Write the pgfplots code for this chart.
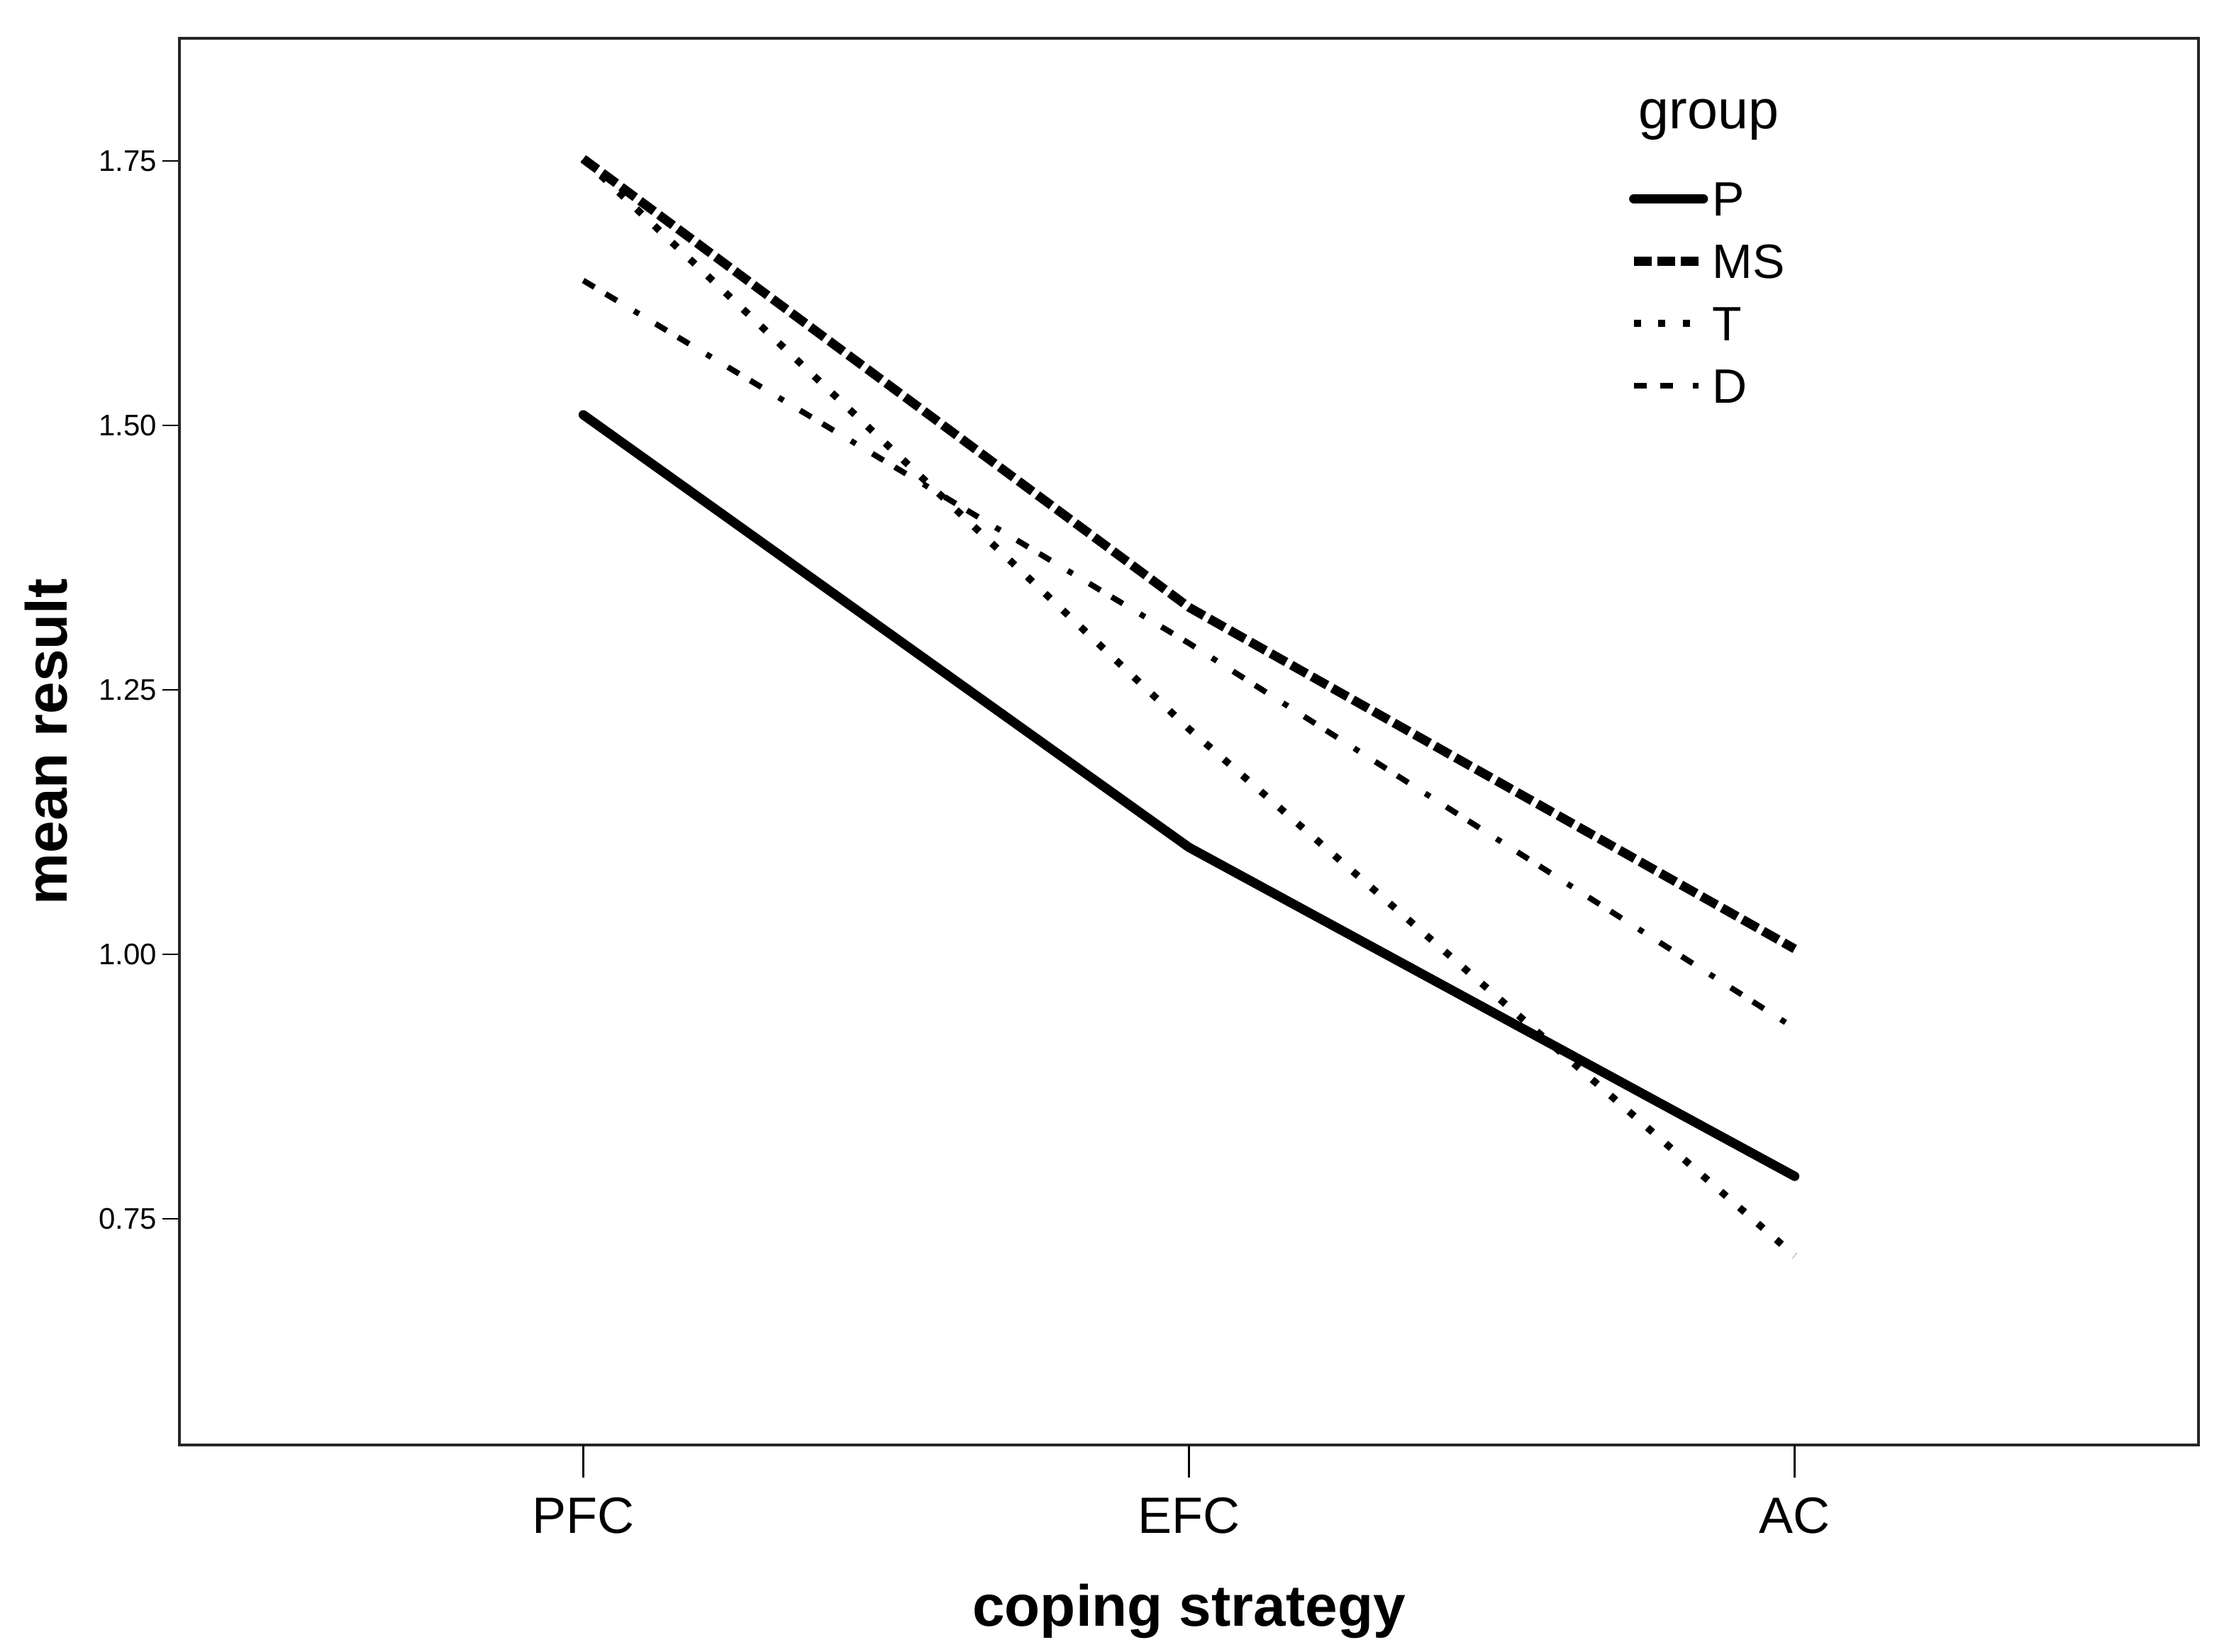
\documentclass[border=0pt]{standalone}
\usepackage{pgfplots}
\pgfplotsset{compat=1.18}
\usepackage{fontspec}
\setmainfont{Liberation Sans}
\begin{document}
\begin{tikzpicture}
\begin{axis}[
  at={(0,0)}, anchor=south west,
  scale only axis,
  width=711.75pt, height=496pt,
  xmin=-0.6667, xmax=2.6667,
  ymin=0.536, ymax=1.866,
  xtick=\empty,
  extra x ticks={0,1,2}, extra x tick labels={PFC,EFC,AC},
  extra x tick style={major tick length=11.5pt, xtick pos=bottom, tick align=outside,
     xticklabel style={font=\fontsize{18}{18}\selectfont, yshift=-3.5pt}},
  ytick={0.75,1,1.25,1.5,1.75},
  /pgf/number format/assume math mode=true,
  yticklabel style={/pgf/number format/fixed, /pgf/number format/fixed zerofill, /pgf/number format/precision=2,
     font=\fontsize{10.5}{10.5}\selectfont, xshift=1.5pt},
  tick align=outside,
  xtick pos=bottom, ytick pos=left,
  major tick length=6pt,
  every tick/.style={black, line width=0.6pt},
  axis line style={black!85, line width=1.1pt},
  xlabel={\textbf{coping strategy}},
  ylabel={\textbf{mean result}},
  xlabel style={font=\fontsize{20.5}{20.5}\selectfont, at={(axis description cs:0.5,0)}, anchor=center, yshift=-58.5pt},
  ylabel style={font=\fontsize{20.5}{20.5}\selectfont, at={(axis description cs:-0.066,0.5)}, anchor=center},
  legend image code/.code={\draw[#1] (0pt,0pt) -- (24.5pt,0pt);},
  legend cell align=left,
  legend style={draw=none, fill=none, inner sep=0pt, outer sep=0pt,
     at={(rel axis cs:0.718,0.908)}, anchor=north west,
     font=\fontsize{17}{17}\selectfont, row sep=0pt,
     /tikz/every odd column/.append style={column sep=1.5pt},
     nodes={inner ysep=0pt, inner xsep=0pt, text height=17.1pt, text depth=4.9pt}},
]
\addplot[black, line width=3.3pt, line cap=round, line join=round] coordinates {(0,1.510) (1,1.101) (2,0.790)};
\addlegendentry{P}
\addplot[black, line width=3.2pt, dash pattern=on 6.2pt off 2.1pt] coordinates {(0,1.752) (1,1.328) (2,1.005)};
\addlegendentry{MS}
\addplot[black, line width=2.5pt, dash pattern=on 2.5pt off 6.1pt] coordinates {(0,1.752) (1,1.213) (2,0.715)};
\addlegendentry{T}
\addplot[black, line width=2pt, dash pattern=on 4.6pt off 4.6pt on 4.6pt off 7.1pt on 2pt off 6.8pt] coordinates {(0,1.637) (1,1.294) (2,0.930)};
\addlegendentry{D}
\node[anchor=base west, font=\fontsize{19.3}{19.3}\selectfont, inner sep=0pt] at (rel axis cs:0.7225,0.9355) {group};
\end{axis}
\pgfresetboundingbox
\useasboundingbox (-63.25pt,-73pt) rectangle (722.5pt,509.5pt);
\end{tikzpicture}
\end{document}
